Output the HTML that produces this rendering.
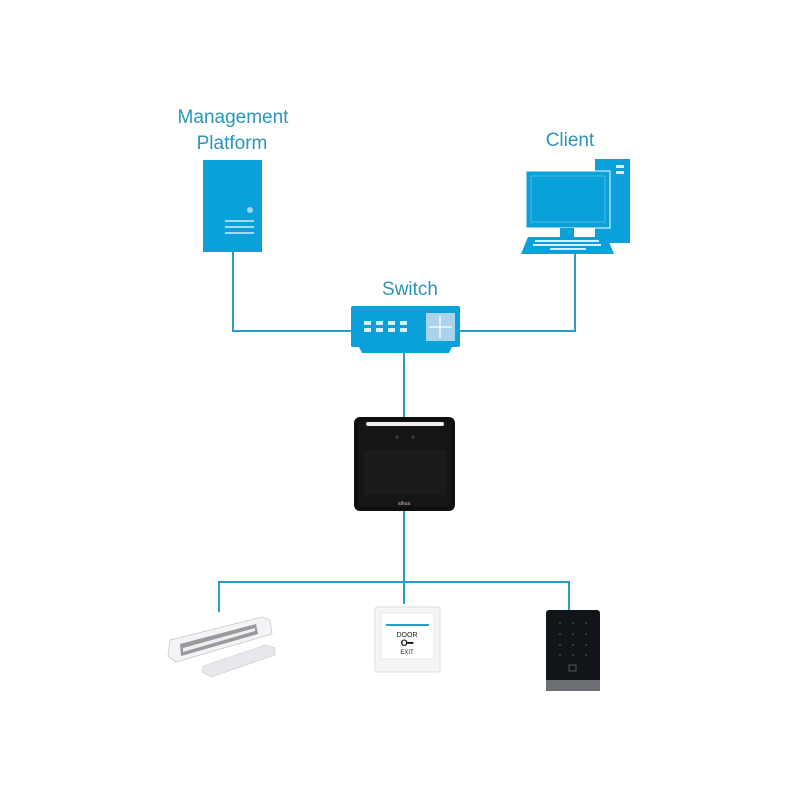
<!DOCTYPE html>
<html><head><style>
body{margin:0;background:#fff;}
svg{display:block}
text{font-family:"Liberation Sans",sans-serif;}
</style></head><body>
<svg width="800" height="800" viewBox="0 0 800 800">
<rect width="800" height="800" fill="#fff"/>
<g fill="#2a96bd" font-size="19" text-anchor="middle">
<text x="233" y="123">Management</text>
<text x="232" y="149">Platform</text>
<text x="570" y="146">Client</text>
<text x="410" y="295">Switch</text>
</g>
<g stroke="#2a9bc2" stroke-width="2" fill="none">
<polyline points="233,252 233,331 351,331"/>
<polyline points="575,254 575,331 460,331"/>
<line x1="404" y1="352" x2="404" y2="418"/>
<line x1="404" y1="511" x2="404" y2="604"/>
<polyline points="219,612 219,582 569,582 569,610"/>
</g>
<!-- server -->
<rect x="203" y="160" width="59" height="92" fill="#0aa0d9"/>
<circle cx="250" cy="210" r="3" fill="#9fd6ee"/>
<g stroke="#d6eef8" stroke-width="1.5"><line x1="225" y1="221" x2="254" y2="221"/><line x1="225" y1="227" x2="254" y2="227"/><line x1="225" y1="233" x2="254" y2="233"/></g>
<!-- client -->
<rect x="595" y="159" width="35" height="84" fill="#0aa0d9"/>
<rect x="616" y="165" width="8" height="3" fill="#d6eef8"/><rect x="616" y="171" width="8" height="3" fill="#d6eef8"/>
<rect x="526" y="171" width="84" height="57" fill="#0aa0d9" stroke="#fff" stroke-width="1"/>
<rect x="531" y="176" width="74" height="46" fill="none" stroke="#5cc0e8" stroke-width="0.8"/>
<rect x="560" y="228" width="14" height="9" fill="#0aa0d9"/>
<polygon points="528,237 607,237 614,254 521,254" fill="#0aa0d9"/>
<g fill="#d6eef8"><rect x="535" y="240" width="64" height="2"/><rect x="533" y="244" width="68" height="2"/><rect x="550" y="248" width="36" height="2"/></g>
<!-- switch -->
<rect x="351" y="306" width="109" height="41" rx="2" fill="#0aa0d9"/>
<polygon points="359,347 452,347 449,353 362,353" fill="#0aa0d9"/>
<g fill="#d6eef8"><rect x="364" y="321" width="7" height="4"/><rect x="376" y="321" width="7" height="4"/><rect x="388" y="321" width="7" height="4"/><rect x="400" y="321" width="7" height="4"/><rect x="364" y="328" width="7" height="4"/><rect x="376" y="328" width="7" height="4"/><rect x="388" y="328" width="7" height="4"/><rect x="400" y="328" width="7" height="4"/></g>
<rect x="426" y="313" width="29" height="28" fill="#a9d3ec"/>
<g stroke="#fff" stroke-width="1.2"><line x1="440" y1="316" x2="440" y2="338"/><line x1="429" y1="327" x2="452" y2="327"/></g>
<!-- face device -->
<rect x="354" y="417" width="101" height="94" rx="6" fill="#0e0e0f"/>
<rect x="358" y="421" width="93" height="86" rx="4" fill="#151516"/>
<rect x="366" y="422" width="78" height="4" rx="2" fill="#eee"/>
<circle cx="397" cy="437" r="2" fill="#333"/><circle cx="413" cy="437" r="2" fill="#333"/>
<rect x="364" y="450" width="82" height="45" fill="#1a1b1d"/>
<text x="404" y="505" font-size="5" fill="#bbb" text-anchor="middle">alhua</text>
<!-- magnetic lock -->
<polygon points="170,640 262,617 270,620 272,634 176,662 168,656" fill="#f3f4f6" stroke="#c8c8cc" stroke-width="0.8"/>
<polygon points="180,644 256,624 258,634 181,656" fill="#9a9a9e"/>
<polygon points="183,648 255,628 255,631 183,652" fill="#eee"/>
<polygon points="203,666 266,645 275,648 275,655 211,677 202,672" fill="#e6e8ec" stroke="#ccc" stroke-width="0.6"/>
<!-- exit button -->
<rect x="375" y="607" width="65" height="65" rx="2" fill="#f4f5f4" stroke="#ddd"/>
<rect x="381" y="613" width="53" height="46" fill="#fff" stroke="#e6e6e6"/>
<rect x="386" y="624" width="43" height="2" fill="#2a9bc2"/>
<text x="407" y="637" font-size="7" text-anchor="middle" fill="#222">DOOR</text>
<text x="407" y="646" font-size="9" text-anchor="middle" fill="#111" font-weight="bold">O━</text>
<text x="407" y="654" font-size="6" text-anchor="middle" fill="#222">EXIT</text>
<!-- keypad -->
<rect x="546" y="610" width="54" height="81" rx="3" fill="#111419"/>
<rect x="546" y="680" width="54" height="11" fill="#6c7075"/>
<g fill="#444">
<circle cx="560" cy="623" r="1"/><circle cx="573" cy="623" r="1"/><circle cx="586" cy="623" r="1"/>
<circle cx="560" cy="634" r="1"/><circle cx="573" cy="634" r="1"/><circle cx="586" cy="634" r="1"/>
<circle cx="560" cy="645" r="1"/><circle cx="573" cy="645" r="1"/><circle cx="586" cy="645" r="1"/>
<circle cx="560" cy="655" r="1"/><circle cx="573" cy="655" r="1"/><circle cx="586" cy="655" r="1"/>
</g>
<rect x="569" y="665" width="7" height="6" fill="none" stroke="#666" stroke-width="0.8"/>
</svg>
</body></html>
